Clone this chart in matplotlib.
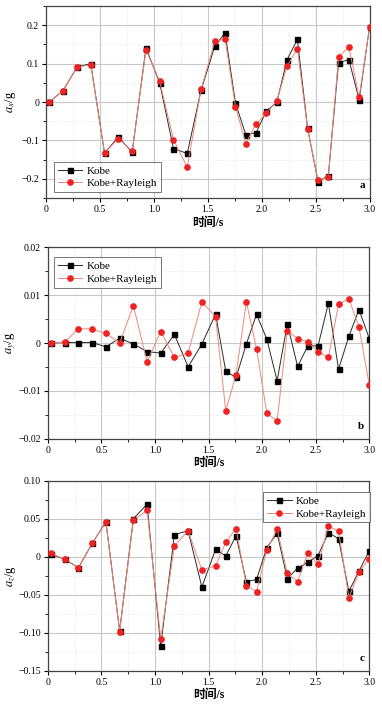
import matplotlib
matplotlib.use("Agg")
import matplotlib.pyplot as plt
from matplotlib.ticker import MultipleLocator

plt.rcParams['font.family'] = ['Liberation Serif', 'Noto Sans CJK SC', 'DejaVu Sans']
plt.rcParams['mathtext.fontset'] = 'stix'

# ---- data ----
t = [0.031, 0.159, 0.287, 0.415, 0.543, 0.671, 0.799, 0.927, 1.054, 1.182, 1.310, 1.438,
     1.566, 1.661, 1.757, 1.853, 1.948, 2.044, 2.140, 2.235, 2.331, 2.426, 2.522, 2.618,
     2.713, 2.809, 2.904, 3.000]

kobe_x = [0, 0.030, 0.091, 0.100, -0.133, -0.091, -0.131, 0.141, 0.050, -0.121, -0.134, 0.031,
          0.146, 0.180, -0.003, -0.085, -0.080, -0.023, -0.001, 0.110, 0.163, -0.068, -0.207,
          -0.192, 0.103, 0.110, 0.006, 0.195]
ray_x = [0, 0.030, 0.091, 0.097, -0.133, -0.095, -0.128, 0.135, 0.055, -0.098, -0.170, 0.033,
         0.159, 0.163, -0.012, -0.108, -0.057, -0.029, 0.003, 0.093, 0.139, -0.070, -0.203,
         -0.196, 0.118, 0.143, 0.012, 0.195]

kobe_y = [0, 0.0001, 0.0001, 0.0001, -0.0008, 0.001, -0.0002, -0.0018, -0.0021, 0.0018, -0.005,
          -0.0002, 0.006, -0.0059, -0.0072, -0.0002, 0.006, 0.0008, -0.0079, 0.004, -0.0049,
          -0.0006, -0.0006, 0.0083, -0.0055, 0.0014, 0.0070, 0.0009]
ray_y = [0, 0.0002, 0.003, 0.0029, 0.002, 0, 0.0078, -0.0039, 0.0024, -0.003, -0.0021, 0.0086,
         0.0055, -0.0142, -0.0066, 0.0086, -0.0012, -0.0147, -0.0163, 0.0026, 0.0009, 0.0002,
         -0.0018, -0.003, 0.0081, 0.0093, 0.0033, -0.0088]

kobe_z = [0.003, -0.0035, -0.0145, 0.0175, 0.046, -0.0975, 0.050, 0.069, -0.1175, 0.029, 0.034,
          -0.040, 0.0096, 0.001, 0.0276, -0.033, -0.030, 0.012, 0.031, -0.029, -0.015, -0.0075,
          0.0015, 0.0316, 0.0237, -0.0456, -0.019, 0.008]
ray_z = [0.0042, -0.0035, -0.0145, 0.018, 0.045, -0.0985, 0.048, 0.061, -0.108, 0.0145, 0.034,
         -0.0175, -0.012, 0.019, 0.037, -0.038, -0.046, 0.009, 0.036, -0.022, -0.033, 0.005,
         -0.010, 0.040, 0.034, -0.054, -0.020, -0.003]

xticks = [0, 0.5, 1.0, 1.5, 2.0, 2.5, 3.0]
xticklabels = ["0", "0.5", "1.0", "1.5", "2.0", "2.5", "3.0"]
yticks_a = [-0.2, -0.1, 0, 0.1, 0.2]
yticklabels_a = ["\u22120.2", "\u22120.1", "0", "0.1", "0.2"]
yticks_b = [-0.02, -0.01, 0, 0.01, 0.02]
yticklabels_b = ["\u22120.02", "\u22120.01", "0", "0.01", "0.02"]
yticks_c = [-0.15, -0.10, -0.05, 0, 0.05, 0.10]
yticklabels_c = ["\u22120.15", "\u22120.10", "\u22120.05", "0", "0.05", "0.10"]

fig = plt.figure(figsize=(3.82, 7.05), dpi=100)

def panel(rect, k, r, ylim, yticks, ylabels, yminor, ylab, tag, legloc, labx):
    ax = fig.add_axes(rect)
    ax.plot(t, k, color="#2a2a2a", lw=0.7, marker="s", ms=3.6, mfc="black", mec="black",
            label="Kobe", zorder=3)
    ax.plot(t, r, color="#f08878", lw=0.7, marker="o", ms=3.8, mfc="#ee2222", mec="#ee2222",
            label="Kobe+Rayleigh", zorder=4)
    ax.set_xlim(0, 3.0); ax.set_ylim(*ylim)
    ax.set_xticks(xticks); ax.set_xticklabels(xticklabels)
    ax.set_yticks(yticks); ax.set_yticklabels(ylabels)
    ax.xaxis.set_minor_locator(MultipleLocator(0.25))
    ax.yaxis.set_minor_locator(MultipleLocator(yminor))
    ax.grid(which="major", color="#c8c8c8", lw=0.8)
    ax.grid(which="minor", color="#e4e4e4", lw=0.6, ls=":")
    ax.set_axisbelow(True)
    ax.tick_params(which="major", direction="out", length=3, width=0.8, labelsize=7, pad=2)
    ax.tick_params(which="minor", direction="out", length=2, width=0.6)
    for s in ax.spines.values():
        s.set_color("#444444"); s.set_linewidth(0.9)
    ax.set_xlabel("时间/s", fontsize=8.5, fontweight="bold", labelpad=2)
    ax.set_ylabel(ylab, fontsize=9)
    ax.yaxis.set_label_coords(labx, 0.5)
    ax.text(0.985, 0.04, tag, transform=ax.transAxes, ha="right", va="bottom",
            fontsize=8, fontweight="bold")
    leg = ax.legend(loc=legloc, fontsize=8, frameon=True, fancybox=False, handlelength=2.2,
                    borderpad=0.35, labelspacing=0.25, handletextpad=0.4)
    leg.get_frame().set_edgecolor("#555555"); leg.get_frame().set_linewidth(0.7)
    return ax

panel([0.1204, 0.7191, 0.8469, 0.2723], kobe_x, ray_x, (-0.25, 0.25), yticks_a, yticklabels_a,
      0.05, r"$a_x$/g", "a", (0.025, 0.03), -0.085)
panel([0.1249, 0.3777, 0.8419, 0.2715], kobe_y, ray_y, (-0.02, 0.02), yticks_b, yticklabels_b,
      0.005, r"$a_y$/g", "b", (0.02, 0.79), -0.092)
panel([0.1249, 0.0487, 0.8419, 0.2695], kobe_z, ray_z, (-0.15, 0.10), yticks_c, yticklabels_c,
      0.025, r"$a_z$/g", "c", (0.67, 0.78), -0.092)

fig.savefig("out.png", dpi=100)
